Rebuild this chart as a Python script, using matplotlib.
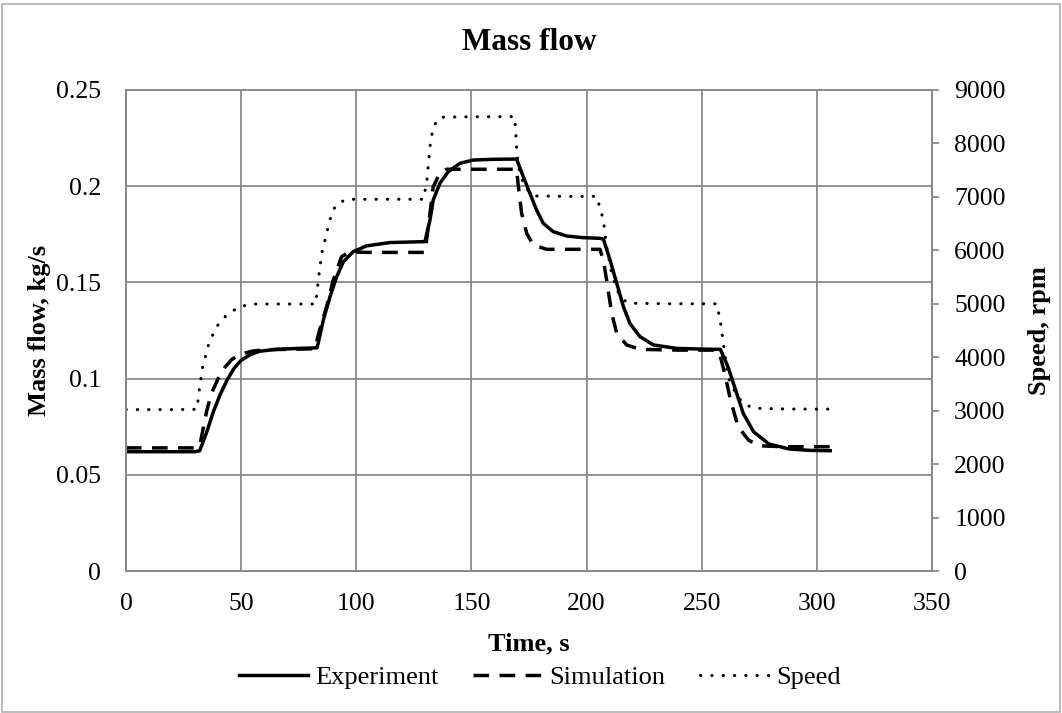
import numpy as np
import matplotlib.pyplot as plt
from matplotlib.patches import Rectangle
from matplotlib.ticker import FuncFormatter

plt.rcParams['font.family'] = ['Liberation Serif', 'DejaVu Serif']

# 实验数据 (time s, mass flow kg/s)
t_exp = [0, 10, 20, 30, 32, 35, 38, 41, 44, 47, 50, 54, 58, 65, 75, 83,
         85.7, 88.6, 91.5, 94.4, 98.7, 104.5, 114.6, 129.8,
         132, 133.4, 136.3, 139.9, 145, 150.8, 160, 169.6,
         172.5, 175.4, 178.3, 181.2, 185.5, 191.4, 198, 205.8,
         207.3, 210.2, 213.1, 216, 218.8, 223.2, 229, 239.1, 248, 256.5,
         258.1, 261.4, 264.7, 268, 272.5, 279.2, 288.1, 297, 305.8]
m_exp = [0.062, 0.062, 0.062, 0.062, 0.0625, 0.072, 0.083, 0.092, 0.0995, 0.1055, 0.1095, 0.1125, 0.1142, 0.1152, 0.1157, 0.116,
         0.1305, 0.1426, 0.153, 0.1608, 0.166, 0.169, 0.1707, 0.1712,
         0.1824, 0.1928, 0.2015, 0.2075, 0.2119, 0.2136, 0.214, 0.2141,
         0.205, 0.1963, 0.1876, 0.1807, 0.1764, 0.1741, 0.1733, 0.1729,
         0.1725, 0.1616, 0.1495, 0.1374, 0.1287, 0.1218, 0.1175, 0.1157, 0.1154, 0.1152,
         0.1152, 0.1062, 0.0941, 0.082, 0.0724, 0.066, 0.0634, 0.0627, 0.0625]

# 仿真数据
t_sim = [0, 10, 20, 30, 32, 33, 35, 37, 40, 43, 46, 50, 55, 60, 70, 82,
         84, 87.1, 90, 93.6, 97.2, 105, 120, 129.8,
         131.5, 133.4, 136.3, 139.2, 150, 160, 169.6,
         170.4, 171.8, 174, 176.9, 182.7, 195, 205.8,
         207.3, 208.7, 210.9, 213.1, 217.4, 223.2, 240, 256.5,
         258, 260.3, 262.5, 265.8, 270.3, 274.7, 285, 295, 305.8]
m_sim = [0.064, 0.064, 0.064, 0.064, 0.065, 0.071, 0.083, 0.092, 0.1, 0.106, 0.11, 0.1128, 0.1143, 0.115, 0.1152, 0.1155,
         0.125, 0.1374, 0.1512, 0.1634, 0.1658, 0.1656, 0.1656, 0.1656,
         0.181, 0.1997, 0.2067, 0.2088, 0.2088, 0.2088, 0.2088,
         0.1997, 0.1859, 0.1755, 0.1694, 0.1672, 0.1672, 0.1672,
         0.1616, 0.1512, 0.134, 0.1235, 0.1175, 0.1152, 0.1148, 0.1148,
         0.112, 0.101, 0.0889, 0.075, 0.0681, 0.0651, 0.0646, 0.0646, 0.0646]

# 转速 rpm
t_spd = [0, 10, 20, 30.8, 32, 33.3, 36, 39.3, 43.7, 49.3, 54.8, 70, 82.4,
         83.5, 85, 87.1, 89.3, 91.5, 95.8, 110, 129.2,
         130.7, 132, 133.4, 136.3, 150, 168.8,
         169.6, 170.4, 172.5, 175.4, 178.3, 190, 204.4,
         207.3, 208.7, 210.9, 213.1, 216, 218.8, 235, 256.5,
         258, 261.4, 264.7, 268, 272.5, 290, 305.8]
spd = [3020, 3020, 3020, 3025, 3449, 3823, 4260, 4571, 4790, 4945, 4995, 4995, 4995,
       5445, 5944, 6318, 6693, 6867, 6955, 6955, 6955,
       7316, 7940, 8313, 8489, 8500, 8500,
       7940, 7565, 7254, 7067, 7017, 7010, 7010,
       6568, 6068, 5570, 5258, 5071, 5010, 5000, 5000,
       4700, 3636, 3325, 3138, 3044, 3030, 3030]

grey = '#898989'

fig = plt.figure(figsize=(10.62, 7.13), dpi=100)
ax = fig.add_axes([126/1062, 1-571/713, 806/1062, 481/713])
ax2 = ax.twinx()

l1, = ax.plot(t_exp, m_exp, color='black', lw=2.5, label='Experiment')
l2, = ax.plot(t_sim, m_sim, color='black', lw=2.5, linestyle=(0, (4.5, 3)), label='Simulation')
l3, = ax2.plot(t_spd, spd, color='black', lw=2.2, linestyle=(0, (0.1, 3.6)),
               dash_capstyle='round', label='Speed')

ax.set_xlim(0, 350)
ax.set_ylim(0, 0.25)
ax2.set_ylim(0, 9000)
ax.set_xticks(np.arange(0, 351, 50))
ax.set_yticks(np.arange(0, 0.2501, 0.05))
ax2.set_yticks(np.arange(0, 9001, 1000))
ax.yaxis.set_major_formatter(FuncFormatter(lambda v, p: '%g' % round(v, 3)))

ax.grid(True, color=grey, lw=1.3)
ax.set_axisbelow(True)
for a in (ax, ax2):
    for s in a.spines.values():
        s.set_color(grey)
        s.set_linewidth(1.3)
ax.tick_params(axis='x', length=0, labelsize=18.5, pad=16)
ax.tick_params(axis='y', length=0, labelsize=18.5, pad=18)
ax2.tick_params(axis='y', length=5, width=1.3, color=grey, labelsize=18.5, pad=11)

ax.set_xlabel('Time, s', fontsize=19, fontweight='bold')
ax.set_ylabel('Mass flow, kg/s', fontsize=19, fontweight='bold')
ax2.set_ylabel('Speed, rpm', fontsize=19, fontweight='bold')
ax.xaxis.set_label_coords(0.5, -0.127)
ax.yaxis.set_label_coords(-0.093, 0.5)
ax2.yaxis.set_label_coords(1.119, 0.5)
ax2.yaxis.label.set_rotation(90)
ax.text(0.5, 1.098, 'Mass flow', transform=ax.transAxes, ha='center', va='center',
        fontsize=22.5, fontweight='bold')

fig.legend([l1, l2, l3], ['Experiment', 'Simulation', 'Speed'], loc='center',
           bbox_to_anchor=(540/1062, 1-677/713), ncol=3, frameon=False, fontsize=19,
           handlelength=2.6, handletextpad=0.3, columnspacing=1.3)

fig.patches.append(Rectangle((0.002, 0.002), 0.996, 0.992, transform=fig.transFigure,
                             fill=False, edgecolor='#b0b0b0', lw=1.2))

fig.savefig('out.png', dpi=100)
